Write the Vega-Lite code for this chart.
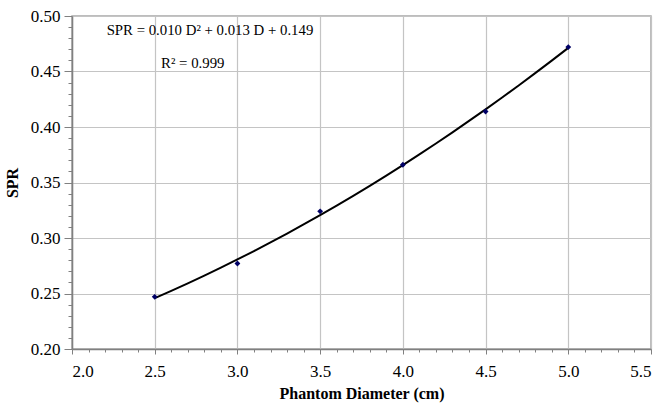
{
  "$schema": "https://vega.github.io/schema/vega-lite/v6.json",
  "autosize": "none",
  "width": 579,
  "height": 333,
  "padding": {"left": 72, "top": 16, "right": 10, "bottom": 58},
  "background": "white",
  "config": {
    "font": "Liberation Serif",
    "view": {"stroke": "#a8a8a8", "strokeWidth": 1.5}
  },
  "datasets": {
    "pts": [
      {"D": 2.5, "SPR": 0.247},
      {"D": 3.0, "SPR": 0.277},
      {"D": 3.5, "SPR": 0.324},
      {"D": 4.0, "SPR": 0.366},
      {"D": 4.5, "SPR": 0.414},
      {"D": 5.0, "SPR": 0.472}
    ],
    "notes": [
      {"D": 2.834, "SPR": 0.4865, "label": "SPR = 0.010 D² + 0.013 D + 0.149"},
      {"D": 2.73, "SPR": 0.457, "label": "R² = 0.999"}
    ]
  },
  "encoding": {
    "x": {
      "field": "D", "type": "quantitative",
      "scale": {"domain": [2.0, 5.5], "nice": false, "zero": false},
      "axis": {
        "title": "Phantom Diameter (cm)",
        "titleFontSize": 16, "titleFontWeight": "bold", "titleColor": "black", "titlePadding": 6,
        "values": [2.0,2.1,2.2,2.3,2.4,2.5,2.6,2.7,2.8,2.9,3.0,3.1,3.2,3.3,3.4,3.5,3.6,3.7,3.8,3.9,4.0,4.1,4.2,4.3,4.4,4.5,4.6,4.7,4.8,4.9,5.0,5.1,5.2,5.3,5.4,5.5],
        "labelExpr": "abs(datum.value*2 - round(datum.value*2)) < 0.001 ? format(datum.value, '.1f') : ''",
        "labelOverlap": false,
        "labelFont": "Liberation Serif", "labelFontSize": 17, "labelColor": "black", "labelPadding": 9,
        "tickSize": {"condition": {"test": "abs(datum.value*2 - round(datum.value*2)) < 0.001", "value": 5}, "value": 3},
        "tickColor": "#808080",
        "domainColor": "#808080", "domainWidth": 1.5,
        "grid": true,
        "gridColor": "#c4c4c4", "gridWidth": 1.2,
        "gridOpacity": {"condition": {"test": "abs(datum.value*2 - round(datum.value*2)) < 0.001", "value": 1}, "value": 0}
      }
    },
    "y": {
      "field": "SPR", "type": "quantitative",
      "scale": {"domain": [0.2, 0.5], "nice": false, "zero": false},
      "axis": {
        "title": "SPR",
        "titleFontSize": 16, "titleFontWeight": "bold", "titleColor": "black", "titlePadding": 10,
        "values": [0.20,0.21,0.22,0.23,0.24,0.25,0.26,0.27,0.28,0.29,0.30,0.31,0.32,0.33,0.34,0.35,0.36,0.37,0.38,0.39,0.40,0.41,0.42,0.43,0.44,0.45,0.46,0.47,0.48,0.49,0.50],
        "labelExpr": "abs(datum.value*20 - round(datum.value*20)) < 0.001 ? format(datum.value, '.2f') : ''",
        "labelOverlap": false,
        "labelFont": "Liberation Serif", "labelFontSize": 17, "labelColor": "black", "labelPadding": 4,
        "tickSize": {"condition": {"test": "abs(datum.value*20 - round(datum.value*20)) < 0.001", "value": 8}, "value": 4},
        "tickColor": "#808080",
        "domainColor": "#808080", "domainWidth": 1.5,
        "grid": true,
        "gridColor": "#c4c4c4", "gridWidth": 1.2,
        "gridOpacity": {"condition": {"test": "abs(datum.value*20 - round(datum.value*20)) < 0.001", "value": 1}, "value": 0}
      }
    }
  },
  "layer": [
    {
      "data": {"name": "pts"},
      "transform": [
        {"regression": "SPR", "on": "D", "method": "poly", "order": 2, "extent": [2.5, 5.0]}
      ],
      "mark": {"type": "line", "color": "black", "strokeWidth": 2, "interpolate": "monotone"}
    },
    {
      "data": {"name": "pts"},
      "mark": {"type": "point", "shape": "diamond", "filled": true, "color": "#000066", "size": 34, "opacity": 1}
    },
    {
      "data": {"name": "notes"},
      "mark": {"type": "text", "font": "Liberation Serif", "fontSize": 14.8, "color": "black", "align": "center", "baseline": "middle"},
      "encoding": {"text": {"field": "label"}}
    }
  ]
}
